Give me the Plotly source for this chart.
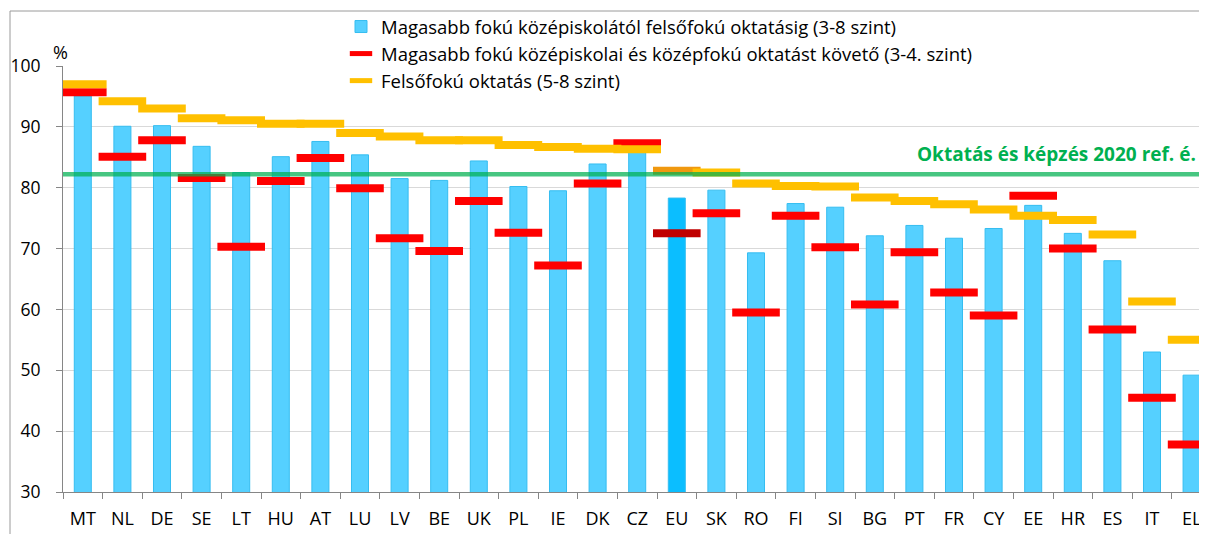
import plotly.graph_objects as go

countries = ["MT", "NL", "DE", "SE", "LT", "HU", "AT", "LU", "LV", "BE", "UK", "PL", "IE", "DK", "CZ",
             "EU", "SK", "RO", "FI", "SI", "BG", "PT", "FR", "CY", "EE", "HR", "ES", "IT", "EL"]
total_3_8 = [95.1, 90.1, 90.2, 86.8, 82.5, 85.1, 87.6, 85.4, 81.5, 81.2, 84.4, 80.2, 79.5, 83.9, 86.2,
             78.3, 79.6, 69.3, 77.4, 76.8, 72.1, 73.8, 71.7, 73.3, 77.1, 72.5, 68.0, 53.0, 49.2]
upper_sec_3_4 = [95.7, 85.1, 87.8, 81.6, 70.3, 81.1, 84.9, 79.9, 71.7, 69.6, 77.8, 72.6, 67.2, 80.7, 87.3,
                 72.5, 75.8, 59.5, 75.4, 70.2, 60.8, 69.4, 62.8, 59.0, 78.7, 70.0, 56.7, 45.5, 37.8]
tertiary_5_8 = [97.0, 94.2, 93.0, 91.4, 91.1, 90.5, 90.5, 89.0, 88.4, 87.8, 87.8, 87.0, 86.7, 86.4, 86.3,
                82.8, 82.5, 80.7, 80.3, 80.2, 78.4, 77.8, 77.3, 76.4, 75.4, 74.7, 72.3, 61.3, 55.0]
target_2020 = 82.2
y_ticks = [30, 40, 50, 60, 70, 80, 90, 100]

names = ["Magasabb fokú középiskolától felsőfokú oktatásig (3-8 szint)",
         "Magasabb fokú középiskolai és középfokú oktatást követő (3-4. szint)",
         "Felsőfokú oktatás (5-8 szint)"]
target_label = "Oktatás és képzés 2020 ref. é."

FONT = "Open Sans"
OFF = 8  # page body margin
W, H = 1207, 534
L = 63 - OFF
T = 66 - OFF
B = H - (492 - OFF)
plot_w = W - L
plot_h = H - T - B
cat_px = 39.6


def px_x(wx):
    return (wx - OFF - L) / plot_w


def px_y(wy):
    return (H - B - (wy - OFF)) / plot_h


bar_colors = ["#0BBEFF" if c == "EU" else "#55D0FF" for c in countries]
red_colors = ["#C00000" if c == "EU" else "#FF0000" for c in countries]
yel_colors = ["#F0980F" if c == "EU" else "#FFC000" for c in countries]

fig = go.Figure()
fig.add_trace(go.Bar(
    x=countries, y=total_3_8, name=names[0], width=0.43,
    marker=dict(color=bar_colors, line=dict(color="#35BDF0", width=1)),
    legendgroup="a",
))
fig.add_trace(go.Scatter(
    x=countries, y=upper_sec_3_4, name=names[1], mode="markers",
    marker=dict(symbol="line-ew", size=34, color=red_colors,
                line=dict(color=red_colors, width=8)),
    legendgroup="b",
))
fig.add_trace(go.Scatter(
    x=countries, y=tertiary_5_8, name=names[2], mode="markers",
    marker=dict(symbol="line-ew", size=34, color=yel_colors,
                line=dict(color=yel_colors, width=8)),
    legendgroup="c",
))

shapes = [
    dict(type="rect", xref="paper", yref="paper", x0=px_x(125), x1=1.0,
         y0=0.99, y1=1.01, fillcolor="white", line=dict(width=0), layer="between"),
    dict(type="line", xref="paper", yref="y", x0=0, x1=1, y0=target_2020, y1=target_2020,
         line=dict(color="rgba(0,176,80,0.72)", width=4.5), layer="above"),
    dict(type="line", xref="paper", yref="paper", x0=px_x(10), x1=1.0,
         y0=px_y(11), y1=px_y(11), line=dict(color="#9A9A9A", width=1)),
    dict(type="line", xref="paper", yref="paper", x0=px_x(10), x1=px_x(10),
         y0=px_y(11), y1=px_y(545), line=dict(color="#9A9A9A", width=1)),
]

annotations = [
    dict(text="%", xref="paper", yref="paper", x=px_x(60), y=px_y(52),
         xanchor="center", yanchor="middle", showarrow=False,
         font=dict(family=FONT, size=18, color="#000")),
    dict(text="<b>" + target_label + "</b>", xref="paper", yref="y", x=px_x(1198),
         y=85.6, xanchor="right", yanchor="middle", showarrow=False,
         font=dict(family=FONT, size=19, color="#00B050")),
]

fig.update_layout(
    width=W, height=H,
    margin=dict(l=L, r=0, t=T, b=B, pad=0, autoexpand=False),
    paper_bgcolor="white", plot_bgcolor="white",
    font=dict(family=FONT, size=18, color="#000"),
    barmode="overlay",
    showlegend=True,
    legend=dict(x=px_x(341), y=px_y(8), xanchor="left", yanchor="top",
                font=dict(family=FONT, size=18.5, color="#000"), bgcolor="rgba(0,0,0,0)",
                traceorder="grouped", tracegroupgap=0, itemclick=False),
    shapes=shapes,
    annotations=annotations,
    xaxis=dict(type="category", range=[-0.5, -0.5 + plot_w / cat_px],
               showline=True, linecolor="#868686", linewidth=1,
               ticks="outside", tickson="boundaries", ticklen=6, tickcolor="#868686",
               showgrid=False, tickfont=dict(family=FONT, size=18), ticklabelstandoff=10),
    yaxis=dict(range=[30, 100], tickvals=y_ticks, showline=True, linecolor="#868686", linewidth=1,
               ticks="outside", ticklen=6, tickcolor="#868686",
               showgrid=True, gridcolor="#D9D9D9", gridwidth=1, zeroline=False,
               tickfont=dict(family=FONT, size=17.5), ticklabelstandoff=12),
)

fig.write_html("out.html")
